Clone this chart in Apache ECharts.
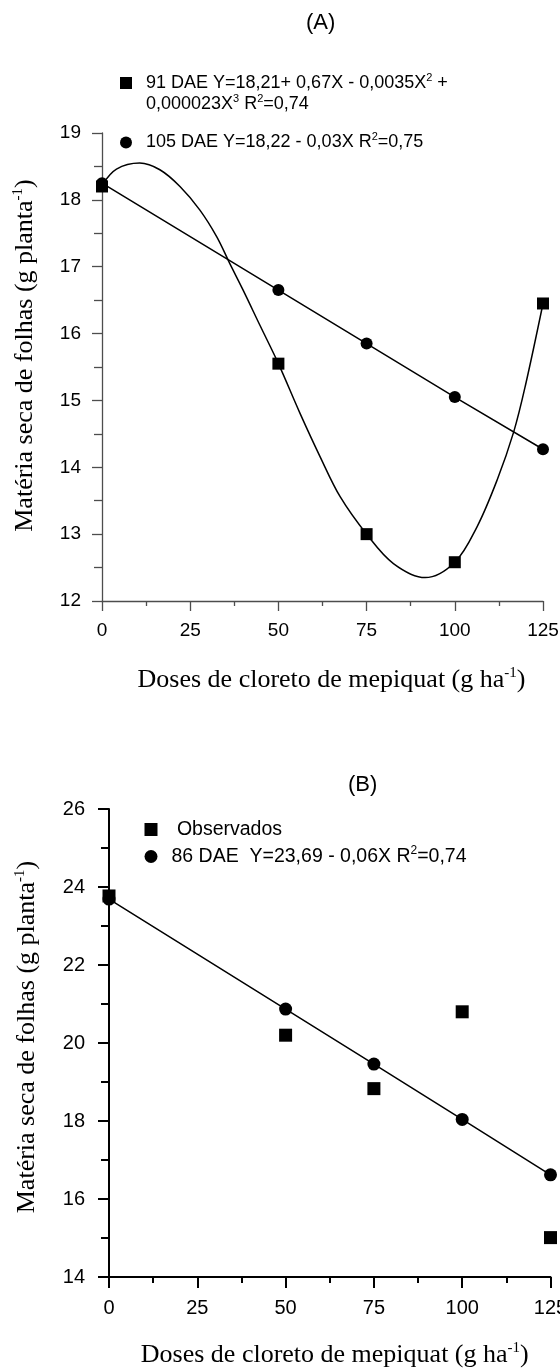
<!DOCTYPE html>
<html>
<head>
<meta charset="utf-8">
<script src="https://cdn.jsdelivr.net/npm/echarts@6/dist/echarts.min.js"></script>
<style>
html,body{margin:0;padding:0;background:#fff;}
#chart{width:560px;height:1370px;}
</style>
</head>
<body>
<div id="chart"></div>
<script>
// ---- data ----
const doses = [0, 50, 75, 100, 125];
const xTicks = [0, 25, 50, 75, 100, 125];
// Chart A
const yTicksA = [12, 13, 14, 15, 16, 17, 18, 19];
const obs91 = [18.2, 15.55, 13.0, 12.58, 16.45];
const obs105 = [18.25, 16.65, 15.85, 15.05, 14.27];
const curve91X = [0, 4.1, 10.7, 16.4, 22.1, 27.7, 32.5, 36.2, 40.0, 44.8, 50, 56.1, 61.8, 67.5, 75, 82.6, 91.6, 100, 106.3, 112, 116.7, 120, 125];
const curve91Y = [18.22, 18.46, 18.55, 18.45, 18.2, 17.85, 17.45, 17.05, 16.65, 16.12, 15.55, 14.81, 14.16, 13.56, 13.0, 12.56, 12.35, 12.58, 13.11, 13.81, 14.53, 15.22, 16.45];
// Chart B
const yTicksB = [14, 16, 18, 20, 22, 24, 26];
const obsB = [23.77, 20.2, 18.83, 20.8, 15.01];
const dae86 = [23.69, 20.87, 19.46, 18.04, 16.62];

const SANS = 'Liberation Sans, Arial, sans-serif';
const SERIF = 'Liberation Serif, Times New Roman, serif';

function pairs(xs, ys) { return xs.map((x, i) => [x, ys[i]]); }

function legendRich(fs, lh, sfs) {
  return {
    a: { fontFamily: SANS, fontSize: fs, color: '#000', lineHeight: lh },
    s: { fontFamily: SANS, fontSize: sfs, color: '#000', lineHeight: sfs, verticalAlign: 'top' },
    g: { fontFamily: SANS, fontSize: fs, width: 9, lineHeight: lh }
  };
}
const richA = legendRich(18, 21.5, 11);
const richB = legendRich(19.5, 23, 12);
const nameRich = {
  n: { fontFamily: SERIF, fontSize: 26, color: '#000', lineHeight: 29 },
  s: { fontFamily: SERIF, fontSize: 15, color: '#000', lineHeight: 15, verticalAlign: 'top' }
};

function xAxisCfg(grid, color, width, tickLen, minorLen, fs, margin, gap, pad) {
  return {
    gridIndex: grid, type: 'value',
    min: xTicks[0], max: xTicks[xTicks.length - 1], interval: xTicks[1] - xTicks[0],
    axisLine: { onZero: false, lineStyle: { color: color, width: width } },
    axisTick: { length: tickLen, lineStyle: { color: color, width: width } },
    minorTick: { show: true, splitNumber: 2, length: minorLen, lineStyle: { color: color, width: width } },
    splitLine: { show: false }, minorSplitLine: { show: false },
    axisLabel: { fontFamily: SANS, fontSize: fs, color: '#000', margin: margin },
    name: '{n|Doses de cloreto de mepiquat (g ha}{s|-1}{n|)}',
    nameLocation: 'middle', nameGap: gap,
    nameTextStyle: { rich: nameRich, padding: [0, 0, 0, pad] }
  };
}
function yAxisCfg(grid, ticks, color, width, tickLen, minorLen, fs, margin, gap, pad) {
  return {
    gridIndex: grid, type: 'value',
    min: ticks[0], max: ticks[ticks.length - 1], interval: ticks[1] - ticks[0],
    axisLine: { onZero: false, lineStyle: { color: color, width: width } },
    axisTick: { length: tickLen, lineStyle: { color: color, width: width } },
    minorTick: { show: true, splitNumber: 2, length: minorLen, lineStyle: { color: color, width: width } },
    splitLine: { show: false }, minorSplitLine: { show: false },
    axisLabel: { fontFamily: SANS, fontSize: fs, color: '#000', margin: margin },
    name: '{n|Matéria seca de folhas (g planta}{s|-1}{n|)}',
    nameLocation: 'middle', nameGap: gap,
    nameTextStyle: { rich: nameRich, padding: [0, 0, 0, pad] }
  };
}

const option = {
  animation: false,
  backgroundColor: '#fff',
  title: [
    { text: '(A)', left: 306, top: 12, padding: 0,
      textStyle: { fontFamily: SANS, fontSize: 22, fontWeight: 'normal', color: '#000' } },
    { text: '(B)', left: 348, top: 774, padding: 0,
      textStyle: { fontFamily: SANS, fontSize: 22, fontWeight: 'normal', color: '#000' } }
  ],
  legend: [
    { data: [{ name: '91 DAE', icon: 'rect' }], left: 120, top: 50.75, padding: 0,
      itemWidth: 12, itemHeight: 12, selectedMode: false,
      itemStyle: { opacity: 1 },
      formatter: () => '{a| }\n{g| }{a|91 DAE Y=18,21+ 0,67X - 0,0035X}{s|2}{a| +}\n{g| }{a|0,000023X}{s|3}{a| R}{s|2}{a|=0,74}',
      textStyle: { rich: richA, lineHeight: 21.5 } },
    { data: [{ name: '105 DAE', icon: 'circle' }], left: 120, top: 131.75, padding: 0,
      itemWidth: 12, itemHeight: 12, selectedMode: false,
      itemStyle: { opacity: 1 },
      formatter: () => '{g| }{a|105 DAE Y=18,22 - 0,03X R}{s|2}{a|=0,75}',
      textStyle: { rich: richA, lineHeight: 21.5 } },
    { data: [{ name: 'Observados', icon: 'rect' }], left: 144.5, top: 818, padding: 0,
      itemWidth: 13, itemHeight: 13, selectedMode: false,
      itemStyle: { opacity: 1 },
      formatter: () => '{g| }{a| Observados}',
      textStyle: { rich: richB, lineHeight: 23 } },
    { data: [{ name: '86 DAE', icon: 'circle' }], left: 144.5, top: 845, padding: 0,
      itemWidth: 13, itemHeight: 13, selectedMode: false,
      itemStyle: { opacity: 1 },
      formatter: () => '{g| }{a|86 DAE  Y=23,69 - 0,06X R}{s|2}{a|=0,74}',
      textStyle: { rich: richB, lineHeight: 23 } }
  ],
  grid: [
    { left: 102, top: 133, width: 441, height: 468, containLabel: false, outerBoundsMode: 'none' },
    { left: 109, top: 809, width: 441.5, height: 468, containLabel: false, outerBoundsMode: 'none' }
  ],
  xAxis: [
    xAxisCfg(0, '#4d4d4d', 1.3, 10, 5, 19, 20, 65, 18),
    xAxisCfg(1, '#000', 2, 11, 6, 20, 21, 64, 10)
  ],
  yAxis: [
    yAxisCfg(0, yTicksA, '#4d4d4d', 1.3, 10, 8, 19, 21, 62, 23),
    yAxisCfg(1, yTicksB, '#000', 2, 11, 8, 20, 24, 67, 12)
  ],
  series: [
    { type: 'line', name: '91 DAE ajuste', xAxisIndex: 0, yAxisIndex: 0,
      data: pairs(curve91X, curve91Y), smooth: 0.35, symbol: 'none',
      lineStyle: { color: '#000', width: 1.5 }, z: 2 },
    { type: 'scatter', name: '91 DAE', xAxisIndex: 0, yAxisIndex: 0,
      data: pairs(doses, obs91), symbol: 'rect', symbolSize: 12,
      itemStyle: { color: '#000', opacity: 1 }, z: 4 },
    { type: 'line', name: '105 DAE', xAxisIndex: 0, yAxisIndex: 0,
      data: pairs(doses, obs105), symbol: 'circle', symbolSize: 12, showAllSymbol: true,
      lineStyle: { color: '#000', width: 1.5 }, itemStyle: { color: '#000', opacity: 1 }, z: 3 },
    { type: 'scatter', name: 'Observados', xAxisIndex: 1, yAxisIndex: 1,
      data: pairs(doses, obsB), symbol: 'rect', symbolSize: 13,
      itemStyle: { color: '#000', opacity: 1 }, z: 4 },
    { type: 'line', name: '86 DAE', xAxisIndex: 1, yAxisIndex: 1,
      data: pairs(doses, dae86), symbol: 'circle', symbolSize: 13, showAllSymbol: true,
      lineStyle: { color: '#000', width: 1.5 }, itemStyle: { color: '#000', opacity: 1 }, z: 3 }
  ]
};

const chart = echarts.init(document.getElementById('chart'), null, { renderer: 'canvas' });
chart.setOption(option);
</script>
</body>
</html>
